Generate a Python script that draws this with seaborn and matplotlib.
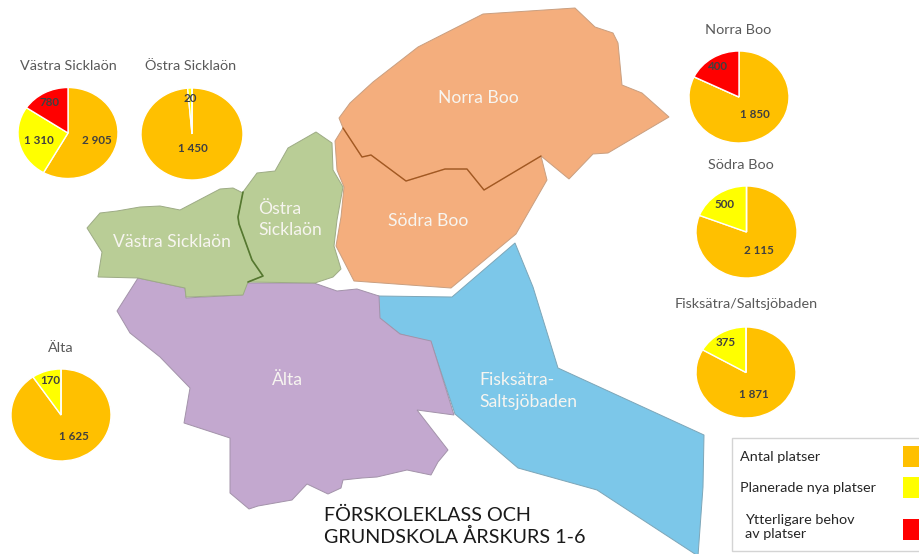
# -*- coding: utf-8 -*-
import matplotlib
matplotlib.use('Agg')
import matplotlib.pyplot as plt
from matplotlib.patches import Polygon, Rectangle
import seaborn as sns

#Pie data
areas = ['Västra Sicklaön', 'Östra Sicklaön', 'Norra Boo', 'Södra Boo',
         'Fisksätra/Saltsjöbaden', 'Älta']
antal_platser = [2905, 1450, 1850, 2115, 1871, 1625]
planerade_platser = [1310, 20, 0, 500, 375, 170]
ytterligare_behov = [780, 0, 400, 0, 0, 0]
legend_labels = ['Antal platser', 'Planerade nya platser', 'Ytterligare behov\nav platser']
title_lines = 'FÖRSKOLEKLASS OCH\nGRUNDSKOLA ÅRSKURS 1-6'

#Pie positions in pixels: centre x, centre y, radius x, radius y (the pies are a bit flat)
pie_pos = [(68, 133, 50, 45.5), (192, 134, 51, 46), (739, 97, 50, 46),
           (746.5, 232, 50.5, 46), (746, 372.5, 50, 45.5), (61, 415, 50, 46)]
title_pos = [(68, 66), (191, 66), (738, 30), (741, 165), (746, 304), (61, 348)]
#One label position per slice
label_pos = [[(97, 141), (39, 140), (50, 102)],
             [(193, 149), (190, 98), None],
             [(755, 114), None, (718, 67)],
             [(759, 251), (725, 204), None],
             [(754, 394), (726, 343), None],
             [(74, 437), (50, 381), None]]

#Map outlines in pixels
norra_boo = [(339, 118), (350, 103), (373, 82), (418, 47), (483, 14), (575, 8), (595, 27),
             (613, 33), (618, 43), (622, 85), (642, 93), (669, 117), (608, 153), (593, 154),
             (569, 179), (541, 156), (484, 190), (467, 169), (445, 169), (406, 181),
             (371, 155), (362, 157), (343, 128)]
sodra_boo = [(343, 128), (335, 141), (337, 170), (344, 187), (341, 217), (336, 246), (354, 281),
             (451, 288), (516, 234), (547, 180), (541, 156), (484, 190), (467, 169), (445, 169),
             (406, 181), (371, 155), (362, 157)]
boo_border = [(343, 128), (362, 157), (371, 155), (406, 181), (445, 169), (467, 169),
              (484, 190), (541, 156)]
fisksatra = [(515, 243), (533, 287), (558, 368), (704, 435), (703, 487), (698, 556), (597, 490),
             (518, 468), (455, 414), (431, 342), (400, 334), (379, 318), (378, 296), (452, 297)]
alta = [(138, 278), (185, 288), (186, 298), (242, 295), (247, 283), (314, 283), (337, 291),
        (357, 289), (379, 296), (380, 318), (400, 334), (431, 341), (454, 415), (417, 410),
        (448, 450), (438, 462), (431, 475), (407, 470), (377, 477), (362, 478), (343, 480),
        (341, 488), (328, 494), (307, 484), (292, 500), (258, 506), (249, 509), (230, 493),
        (230, 438), (184, 423), (190, 388), (160, 357), (130, 333), (117, 311)]
vastra = [(87, 228), (100, 213), (117, 211), (140, 207), (160, 206), (180, 210), (220, 189),
          (233, 188), (243, 193), (238, 217), (239, 224), (252, 260), (263, 276), (248, 282),
          (243, 295), (186, 297), (185, 288), (138, 278), (98, 277), (102, 252)]
ostra = [(243, 192), (257, 173), (275, 171), (288, 148), (316, 132), (332, 143), (333, 170),
         (343, 187), (337, 220), (334, 246), (341, 269), (333, 277), (315, 283), (248, 282),
         (263, 276), (252, 260), (239, 224), (238, 217)]
sickla_border = [(243, 192), (238, 217), (239, 224), (252, 260), (263, 276), (248, 282)]

W = 920
H = 554

sns.set_theme(style='white')
plt.rcParams['font.family'] = ['Lato', 'DejaVu Sans']
pie_colors = sns.color_palette(['#ffc000', '#ffff00', '#ff0000'])


def space_number(value):
    """Writes 2905 as 2 905"""
    return f'{value:,}'.replace(',', ' ')


def draw_pie(fig, pos, values):
    """Draws one pie in its own small axes, clockwise from the top"""
    cx, cy, rx, ry = pos
    ax = fig.add_axes([(cx - rx) / W, 1 - (cy + ry) / H, 2 * rx / W, 2 * ry / H])
    ax.pie(values, colors=pie_colors, startangle=90, counterclock=False, radius=1,
           wedgeprops={'edgecolor': 'white', 'linewidth': 1.0, 'clip_on': False})
    ax.set_aspect('auto')
    ax.set_xlim(-1, 1)
    ax.set_ylim(-1, 1)
    ax.axis('off')


fig = plt.figure(figsize=(W / 100, H / 100), dpi=100, facecolor='white')

#Axes in pixel coordinates for the map and all text
base = fig.add_axes([0, 0, 1, 1])
base.set_xlim(0, W)
base.set_ylim(H, 0)
base.axis('off')

#Draw the map
map_parts = [(fisksatra, '#7cc7e9', '#7da6b8'), (alta, '#c3a8cf', '#a393aa'),
             (sodra_boo, '#f4ae7d', '#c99f80'), (norra_boo, '#f4ae7d', '#c99f80'),
             (vastra, '#b9cd96', '#9dab85'), (ostra, '#b9cd96', '#9dab85')]
for outline, fill, edge in map_parts:
    base.add_patch(Polygon(outline, closed=True, facecolor=fill, edgecolor=edge, linewidth=0.7))
base.plot(*zip(*boo_border), color='#a5581f', linewidth=1.0)
base.plot(*zip(*sickla_border), color='#55782f', linewidth=1.2)

#Map labels
for text, x, y, ha in [('Norra Boo', 478, 98, 'center'), ('Södra Boo', 428, 221, 'center'),
                       ('Västra Sicklaön', 172, 242, 'center'), ('Älta', 287, 380, 'center'),
                       ('Östra\nSicklaön', 258, 219.5, 'left'),
                       ('Fisksätra-\nSaltsjöbaden', 479, 391, 'left')]:
    base.text(x, y, text, color='#f7f5f0', fontsize=12.6, ha=ha, va='center', linespacing=1.4)

#Draw the pies and their texts
for i, area in enumerate(areas):
    values = [antal_platser[i], planerade_platser[i], ytterligare_behov[i]]
    draw_pie(fig, pie_pos[i], values)
    base.text(title_pos[i][0], title_pos[i][1], area, color='#595959', fontsize=10.4,
              ha='center', va='center')

#Value labels go in an axes on top of the pies
top = fig.add_axes([0, 0, 1, 1], facecolor='none')
top.set_xlim(0, W)
top.set_ylim(H, 0)
top.axis('off')
for i in range(len(areas)):
    values = [antal_platser[i], planerade_platser[i], ytterligare_behov[i]]
    for value, pos in zip(values, label_pos[i]):
        if pos is not None:
            top.text(pos[0], pos[1], space_number(value), color='#404040', fontsize=8.4,
                     fontweight='bold', ha='center', va='center')

#Legend box
top.add_patch(Rectangle((732, 438), 190, 113, facecolor='white', edgecolor='#d4d4d4', linewidth=1.0))
for color, y0, h in zip(pie_colors, [446, 477, 519], [21, 21, 21]):
    top.add_patch(Rectangle((903, y0), 18, h, facecolor=color, edgecolor='none'))
for text, x, y in zip(legend_labels, [740, 740, 745], [457, 488, 527]):
    top.text(x, y, text, color='#262626', fontsize=10.4, ha='left', va='center', linespacing=1.25)

#Main title
top.text(324, 526.5, title_lines, color='#1a1a1a', fontsize=14.2, ha='left', va='center', linespacing=1.22)

plt.savefig('out.png', dpi=100)
